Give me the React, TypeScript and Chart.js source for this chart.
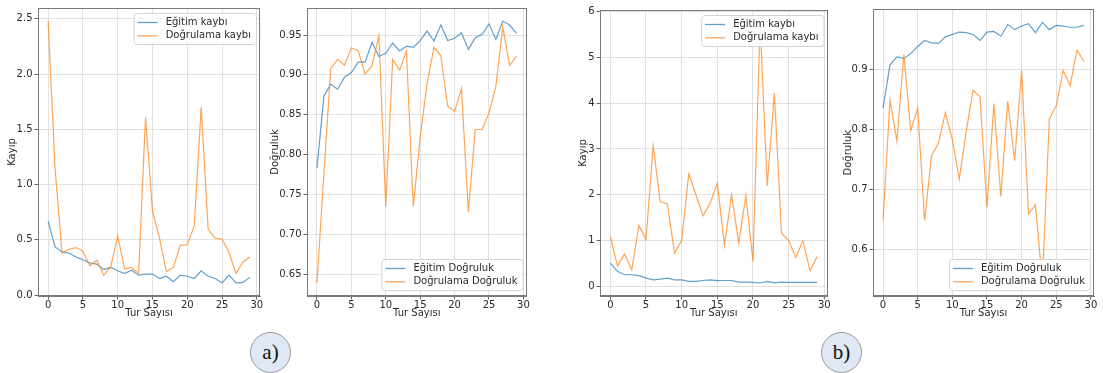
import React, { useEffect, useRef } from "react";
import { Chart, registerables } from "chart.js";

Chart.register(...registerables);
Chart.defaults.font.family = "'DejaVu Sans', sans-serif";
Chart.defaults.font.size = 10;

// ---------------- data ----------------
const epochs = [0, 1, 2, 3, 4, 5, 6, 7, 8, 9, 10, 11, 12, 13, 14, 15, 16, 17, 18, 19, 20, 21, 22, 23, 24, 25, 26, 27, 28, 29];
const xTickValues = [0, 5, 10, 15, 20, 25, 30];
const xTickLabels = ["0", "5", "10", "15", "20", "25", "30"];

const lossTrainA = [0.67, 0.435, 0.39, 0.38, 0.345, 0.32, 0.29, 0.28, 0.23, 0.25, 0.22, 0.195, 0.225, 0.18, 0.19, 0.19, 0.15, 0.17, 0.12, 0.18, 0.17, 0.15, 0.22, 0.17, 0.15, 0.11, 0.18, 0.11, 0.115, 0.16];
const lossValA = [2.48, 1.15, 0.38, 0.415, 0.43, 0.4, 0.265, 0.315, 0.18, 0.255, 0.535, 0.235, 0.25, 0.195, 1.61, 0.76, 0.52, 0.21, 0.25, 0.45, 0.455, 0.625, 1.7, 0.595, 0.515, 0.505, 0.385, 0.195, 0.3, 0.345];
const accTrainA = [0.783, 0.873, 0.8885, 0.882, 0.897, 0.903, 0.916, 0.916, 0.941, 0.923, 0.927, 0.94, 0.93, 0.936, 0.9345, 0.943, 0.955, 0.9425, 0.9625, 0.943, 0.946, 0.953, 0.932, 0.9465, 0.951, 0.964, 0.9445, 0.9675, 0.9625, 0.952];
const accValA = [0.639, 0.775, 0.908, 0.9195, 0.912, 0.934, 0.93, 0.901, 0.9115, 0.949, 0.735, 0.9195, 0.906, 0.93, 0.735, 0.822, 0.889, 0.9345, 0.924, 0.861, 0.854, 0.883, 0.728, 0.8315, 0.8315, 0.852, 0.886, 0.96, 0.912, 0.9235];

const lossTrainB = [0.51, 0.33, 0.255, 0.255, 0.235, 0.18, 0.145, 0.16, 0.18, 0.145, 0.145, 0.11, 0.11, 0.13, 0.145, 0.125, 0.13, 0.13, 0.095, 0.095, 0.09, 0.075, 0.11, 0.08, 0.095, 0.09, 0.09, 0.09, 0.09, 0.09];
const lossValB = [1.09, 0.45, 0.71, 0.36, 1.33, 1.03, 3.07, 1.855, 1.8, 0.73, 1.0, 2.46, 2.0, 1.54, 1.82, 2.25, 0.895, 2.0, 0.945, 1.985, 0.545, 5.75, 2.2, 4.22, 1.16, 1.0, 0.63, 1.0, 0.34, 0.655];
const accTrainB = [0.835, 0.907, 0.9205, 0.918, 0.926, 0.938, 0.948, 0.944, 0.943, 0.954, 0.958, 0.962, 0.961, 0.958, 0.948, 0.962, 0.963, 0.955, 0.9745, 0.966, 0.972, 0.976, 0.961, 0.978, 0.966, 0.973, 0.972, 0.97, 0.97, 0.973];
const accValB = [0.648, 0.849, 0.78, 0.9245, 0.798, 0.835, 0.648, 0.756, 0.777, 0.828, 0.783, 0.717, 0.796, 0.865, 0.854, 0.67, 0.843, 0.688, 0.8465, 0.7475, 0.898, 0.659, 0.674, 0.544, 0.817, 0.839, 0.898, 0.873, 0.932, 0.913];

const lossTicksA = [0, 0.5, 1, 1.5, 2, 2.5];
const lossTickLabelsA = ["0.0", "0.5", "1.0", "1.5", "2.0", "2.5"];
const accTicksA = [0.65, 0.7, 0.75, 0.8, 0.85, 0.9, 0.95];
const accTickLabelsA = ["0.65", "0.70", "0.75", "0.80", "0.85", "0.90", "0.95"];
const lossTicksB = [0, 1, 2, 3, 4, 5, 6];
const lossTickLabelsB = ["0", "1", "2", "3", "4", "5", "6"];
const accTicksB = [0.6, 0.7, 0.8, 0.9];
const accTickLabelsB = ["0.6", "0.7", "0.8", "0.9"];

const xTitle = "Tur Sayısı";
const lossTitle = "Kayıp";
const accTitle = "Doğruluk";
const lossLegend = ["Eğitim kaybı", "Doğrulama kaybı"];
const accLegend = ["Eğitim Doğruluk", "Doğrulama Doğruluk"];

// ---------------- styles ----------------
const BLUE = "rgba(31,119,180,0.7)";
const ORANGE = "rgba(255,127,14,0.7)";
const GRID = "#dedede";
const FRAME = "#7a7a7a";
const TICKC = "#555";
const TEXT = "#2a2a2a";

const mplPlugin = {
  id: "mplFrame",
  afterDraw(chart: any, _args: any, opts: any) {
    const { ctx, chartArea: a } = chart;
    ctx.save();
    ctx.strokeStyle = FRAME;
    ctx.lineWidth = 1;
    ctx.strokeRect(Math.round(a.left) + 0.5, Math.round(a.top) + 0.5, Math.round(a.right - a.left) - 1, Math.round(a.bottom - a.top) - 1);

    // legend
    const labels: string[] = opts.labels;
    const colors = [BLUE, ORANGE];
    ctx.font = "10px 'DejaVu Sans', sans-serif";
    const tw = Math.max(...labels.map((l) => ctx.measureText(l).width));
    const w = tw + 4 + 20 + 8 + 5;
    const h = 31;
    const x = a.right - 4 - w;
    const y = opts.pos === "upper" ? a.top + 5 : a.bottom - 6 - h;
    ctx.beginPath();
    (ctx as any).roundRect(x + 0.5, y + 0.5, w, h, 3);
    ctx.fillStyle = "rgba(255,255,255,0.85)";
    ctx.fill();
    ctx.strokeStyle = "#d4d4d4";
    ctx.lineWidth = 1;
    ctx.stroke();
    labels.forEach((l, i) => {
      const cy = y + 9.5 + i * 13.3;
      ctx.strokeStyle = colors[i];
      ctx.lineWidth = 1.3;
      ctx.beginPath();
      ctx.moveTo(x + 4, cy);
      ctx.lineTo(x + 24, cy);
      ctx.stroke();
      ctx.fillStyle = TEXT;
      ctx.textBaseline = "middle";
      ctx.textAlign = "left";
      ctx.fillText(l, x + 32, cy);
    });
    ctx.restore();
  },
};

type PanelProps = {
  left: number;
  top: number;
  w: number;
  h: number;
  yAxisW: number;
  padTop: number;
  padRight: number;
  train: number[];
  val: number[];
  yTicks: number[];
  yTickLabels: string[];
  yTitle: string;
  legend: string[];
  legendPos: "upper" | "lower";
};

function Panel(p: PanelProps) {
  const ref = useRef<HTMLCanvasElement>(null);
  useEffect(() => {
    if (!ref.current) return;
    const all = [...p.train, ...p.val];
    const mn = Math.min(...all);
    const mx = Math.max(...all);
    const r = mx - mn;
    const xmn = Math.min(...epochs);
    const xmx = Math.max(...epochs);
    const xr = xmx - xmn;
    const chart = new Chart(ref.current, {
      type: "line",
      data: {
        datasets: [
          {
            label: p.legend[0],
            data: epochs.map((e, i) => ({ x: e, y: p.train[i] })),
            borderColor: BLUE,
            borderWidth: 1.2,
            pointRadius: 0,
            tension: 0,
            fill: false,
            order: 1,
          },
          {
            label: p.legend[1],
            data: epochs.map((e, i) => ({ x: e, y: p.val[i] })),
            borderColor: ORANGE,
            borderWidth: 1.2,
            pointRadius: 0,
            tension: 0,
            fill: false,
            order: 0,
          },
        ],
      },
      options: {
        animation: false,
        responsive: false,
        maintainAspectRatio: false,
        layout: { padding: { top: p.padTop, right: p.padRight, left: 0, bottom: 0 } },
        plugins: {
          legend: { display: false },
          tooltip: { enabled: false },
          mplFrame: { labels: p.legend, pos: p.legendPos },
        } as any,
        scales: {
          x: {
            type: "linear",
            min: xmn - 0.05 * xr,
            max: xmx + 0.05 * xr,
            afterBuildTicks: (s: any) => {
              s.ticks = xTickValues.map((v) => ({ value: v }));
            },
            afterFit: (s: any) => {
              s.height = p.h - 296 + p.top;
            },
            ticks: {
              autoSkip: false,
              maxRotation: 0,
              color: TEXT,
              padding: 0,
              callback: (_v: any, i: number) => xTickLabels[i],
            },
            grid: { color: GRID, tickColor: TICKC, tickLength: 3.5, lineWidth: 0.9 },
            border: { color: FRAME },
            title: { display: true, text: xTitle, color: TEXT, padding: { top: 0, bottom: 1 } },
          },
          y: {
            type: "linear",
            min: mn - 0.05 * r,
            max: mx + 0.05 * r,
            afterBuildTicks: (s: any) => {
              s.ticks = p.yTicks.map((v) => ({ value: v }));
            },
            afterFit: (s: any) => {
              s.width = p.yAxisW;
            },
            ticks: {
              autoSkip: false,
              color: TEXT,
              padding: 2,
              callback: (_v: any, i: number) => p.yTickLabels[i],
            },
            grid: { color: GRID, tickColor: TICKC, tickLength: 3.5, lineWidth: 0.9 },
            border: { color: FRAME },
            title: { display: true, text: p.yTitle, color: TEXT, padding: { top: 1, bottom: 0 } },
          },
        },
      },
      plugins: [mplPlugin],
    } as any);
    return () => chart.destroy();
  }, []);
  return (
    <canvas
      ref={ref}
      width={p.w}
      height={p.h}
      style={{ position: "absolute", left: p.left, top: p.top, width: p.w, height: p.h }}
    />
  );
}

function Badge({ cx, cy, text }: { cx: number; cy: number; text: string }) {
  const d = 41;
  return (
    <div
      style={{
        position: "absolute",
        left: cx - d / 2,
        top: cy - d / 2,
        width: d,
        height: d,
        boxSizing: "border-box",
        borderRadius: "50%",
        background: "#dfe8f4",
        border: "1px solid #9a9a9a",
        display: "flex",
        alignItems: "center",
        justifyContent: "center",
        fontFamily: "'Liberation Serif', 'Times New Roman', serif",
        fontSize: 21,
        color: "#111",
        lineHeight: 1,
      }}
    >
      {text}
    </div>
  );
}

export default function App() {
  return (
    <div style={{ position: "absolute", left: 0, top: 0, width: 1103, height: 373, background: "#fff", overflow: "hidden" }}>
      <Panel left={5} top={0} w={263} h={320} yAxisW={33} padTop={7} padRight={8}
        train={lossTrainA} val={lossValA} yTicks={lossTicksA} yTickLabels={lossTickLabelsA}
        yTitle={lossTitle} legend={lossLegend} legendPos="upper" />
      <Panel left={268} top={0} w={268} h={320} yAxisW={39} padTop={8} padRight={9.5}
        train={accTrainA} val={accValA} yTicks={accTicksA} yTickLabels={accTickLabelsA}
        yTitle={accTitle} legend={accLegend} legendPos="lower" />
      <Panel left={576} top={0} w={260} h={320} yAxisW={24} padTop={10} padRight={8.5}
        train={lossTrainB} val={lossValB} yTicks={lossTicksB} yTickLabels={lossTickLabelsB}
        yTitle={lossTitle} legend={lossLegend} legendPos="upper" />
      <Panel left={841} top={0} w={262} h={320} yAxisW={32} padTop={9.4} padRight={9}
        train={accTrainB} val={accValB} yTicks={accTicksB} yTickLabels={accTickLabelsB}
        yTitle={accTitle} legend={accLegend} legendPos="lower" />
      <Badge cx={270.5} cy={352.5} text="a)" />
      <Badge cx={841.5} cy={352} text="b)" />
    </div>
  );
}
